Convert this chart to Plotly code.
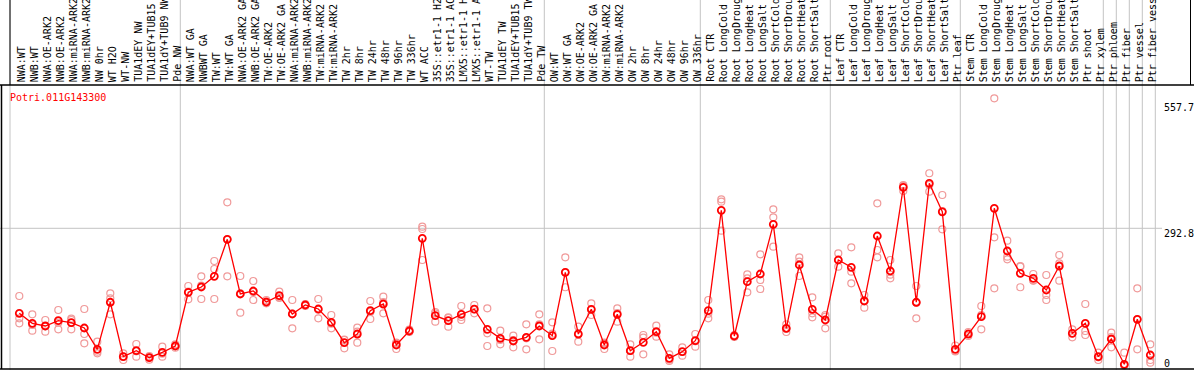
import plotly.graph_objects as go

gene = "Potri.011G143300"

samples = [
    "NWA:WT", "NWB:WT", "NWA:OE-ARK2", "NWB:OE-ARK2", "NWA:miRNA-ARK2", "NWB:miRNA-ARK2",
    "NW 0hr", "WT H2O", "WT-NW", "TUA1dEY NW", "TUA1dEY+TUB15 NW", "TUA1dY+TUB9 NW", "Pde NW",
    "NWA:WT GA", "NWBWT GA", "TW:WT", "TW:WT GA", "NWA:OE-ARK2 GA", "NWB:OE-ARK2 GA",
    "TW:OE-ARK2", "TW:OE-ARK2 GA", "NWA:miRNA-ARK2", "NWB:miRNA-ARK2", "TW:miRNA-ARK2",
    "TW:miRNA-ARK2", "TW 2hr", "TW 8hr", "TW 24hr", "TW 48hr", "TW 96hr", "TW 336hr", "WT ACC",
    "35S::etr1-1 H2O", "35S::etr1-1 ACC", "LMX5::etr1-1 H2O", "LMX5::etr1-1 ACC", "WT-TW",
    "TUA1dEY TW", "TUA1dEY+TUB15 TW", "TUA1dY+TUB9 TW", "Pde TW",
    "OW:WT", "OW:WT GA", "OW:OE-ARK2", "OW:OE-ARK2 GA", "OW:miRNA-ARK2", "OW:miRNA-ARK2",
    "OW 2hr", "OW 8hr", "OW 24hr", "OW 48hr", "OW 96hr", "OW 336hr",
    "Root CTR", "Root LongCold", "Root LongDrought", "Root LongHeat", "Root LongSalt",
    "Root ShortCold", "Root ShortDrought", "Root ShortHeat", "Root ShortSalt", "Ptr root",
    "Leaf CTR", "Leaf LongCold", "Leaf LongDrought", "Leaf LongHeat", "Leaf LongSalt",
    "Leaf ShortCold", "Leaf ShortDrought", "Leaf ShortHeat", "Leaf ShortSalt", "Ptr leaf",
    "Stem CTR", "Stem LongCold", "Stem LongDrought", "Stem LongHeat", "Stem LongSalt",
    "Stem ShortCold", "Stem ShortDrought", "Stem ShortHeat", "Stem ShortSalt", "Ptr shoot",
    "Ptr xylem", "Ptr phloem", "Ptr fiber", "Ptr vessel", "Ptr fiber vessel",
]

means = [
    112.1, 90.8, 85.1, 96.3, 92.1, 80.8, 35.5, 135.5, 19.8, 32.5, 17.6, 29.1, 42.5,
    156.7, 168.0, 190.7, 269.4, 153.1, 159.5, 136.1, 149.5, 110.6, 129.7, 121.2, 92.9,
    49.5, 68.0, 117.6, 131.8, 44.7, 74.4, 271.5, 107.0, 96.3, 109.9, 120.8, 78.0,
    58.9, 53.2, 61.0, 85.1,
    64.4, 199.2, 68.0, 120.6, 44.7, 109.9, 32.5, 50.4, 72.9, 16.4, 30.4, 53.8,
    117.6, 331.1, 63.8, 179.3, 195.6, 301.3, 80.2, 214.8, 120.6, 97.8,
    225.4, 209.9, 138.2, 276.4, 202.0, 380.0, 135.5, 388.5, 327.9, 35.5,
    68.0, 104.8, 335.3, 244.5, 197.1, 186.5, 161.6, 212.6, 69.5, 90.8,
    19.8, 57.4, 3.6, 99.3, 23.4,
]

rep1 = [
    148.8, 109.9, 97.8, 119.1, 97.8, 121.2, 51.7, 154.6, 27.0, 46.8, 21.3, 41.0, 46.1,
    170.1, 190.7, 223.3, 348.1, 191.4, 180.7, 140.3, 158.0, 140.3, 131.8, 142.5, 108.4,
    55.3, 81.4, 138.2, 147.4, 49.5, 77.2, 296.2, 112.1, 103.6, 127.6, 129.7, 122.7,
    75.1, 64.4, 88.7, 109.9,
    92.9, 231.1, 83.6, 133.3, 49.5, 122.7, 46.1, 65.9, 85.7, 24.9, 39.8, 68.0,
    140.3, 354.5, 65.9, 195.0, 237.5, 333.2, 88.7, 231.1, 146.1, 108.4,
    239.6, 252.4, 151.0, 346.0, 225.4, 384.9, 170.1, 409.8, 363.6, 43.6,
    72.3, 127.6, 569.2, 266.4, 212.6, 195.6, 193.5, 236.0, 78.0, 131.8,
    28.3, 70.8, 28.3, 165.2, 46.1,
]

rep2 = [
    101.4, 75.1, 72.9, 78.0, 78.0, 68.0, 30.4, 144.0, 12.8, 19.8, 13.4, 19.8, 38.9,
    141.8, 142.5, 206.3, 190.7, 113.3, 140.3, 133.3, 144.6, 80.2, 127.6, 101.4, 80.2,
    37.6, 49.5, 99.9, 112.1, 36.1, 72.3, 291.3, 94.2, 83.6, 97.8, 112.1, 42.5,
    46.1, 39.8, 35.5, 56.8,
    31.9, 167.4, 51.7, 108.4, 36.1, 94.2, 19.8, 24.9, 62.3, 10.6, 21.9, 41.0,
    101.4, 349.4, 61.7, 156.7, 182.9, 316.2, 72.3, 191.4, 103.6, 80.2,
    211.2, 200.5, 124.0, 246.7, 186.5, 372.1, 101.4, 370.6, 290.7, 31.9,
    63.8, 78.0, 273.7, 232.4, 167.4, 181.4, 140.3, 218.4, 61.0, 65.9,
    12.8, 39.8, 2.0, 35.5, 12.8,
]

rep3 = [
    90.8, 87.2, 84.4, 92.1, 100.6, 48.3, 27.0, 109.9, 19.8, 31.3, 18.5, 26.2, 42.5,
    158.0, 170.8, 142.5, 269.4, 154.6, 157.4, 134.6, 146.1, 111.2, 129.7, 119.7, 89.9,
    55.9, 72.9, 114.8, 136.1, 48.3, 73.8, 225.4, 114.8, 102.1, 104.2, 120.6, 69.5,
    55.3, 55.3, 58.9, 88.7,
    68.7, 199.2, 68.7, 119.7, 48.3, 112.7, 31.9, 60.2, 70.8, 13.4, 29.8, 52.5,
    111.2, 287.7, 63.8, 186.5, 163.7, 253.7, 79.3, 221.8, 112.1, 104.8,
    225.4, 175.9, 139.7, 231.1, 194.1, 382.8, 134.6, 384.9, 329.6, 30.8,
    68.0, 108.4, 165.2, 226.9, 211.2, 182.2, 151.0, 181.4, 69.5, 74.4,
    18.5, 61.7, 1.0, 99.3, 7.0,
]

group_ends = [13, 41, 53, 63, 73, 84, 85, 86, 87, 88]
axis_labels = [557.7, 292.8, 0]

# ---------------- layout constants ----------------
W, H = 1194, 370
PLOT_TOP, PLOT_BOT = 85, 369
PH = PLOT_BOT - PLOT_TOP
STEP = 13.0
X0PX = 6.3  # pixel of index 0
XR = [-X0PX / STEP, (W - X0PX) / STEP]
YR = [-6.38, 597.5]


def py(pix):
    return (PLOT_BOT - pix) / PH


xs = list(range(1, len(samples) + 1))
RED = "#ff0000"
PINK = "#f09a9a"
GREY = "#c4c4c4"
FONT = "DejaVu Sans Mono"

fig = go.Figure()
for r in (rep1, rep2, rep3):
    fig.add_trace(go.Scatter(
        x=xs, y=r, mode="markers", cliponaxis=False,
        marker=dict(symbol="circle-open", size=7, color=PINK, line=dict(width=1.2, color=PINK)),
        hoverinfo="skip", showlegend=False))
fig.add_trace(go.Scatter(
    x=xs, y=means, mode="lines+markers", cliponaxis=False,
    line=dict(color=RED, width=1.3),
    marker=dict(symbol="circle-open", size=7, color=RED, line=dict(width=1.8, color=RED)),
    text=samples, showlegend=False))

shapes = []
sep_x = [0.285] + [e + 0.385 for e in group_ends]
for sx in sep_x:
    shapes.append(dict(type="line", xref="x", yref="paper", x0=sx, x1=sx,
                       y0=py(H), y1=py(0), line=dict(color=GREY, width=1), layer="below"))
# header black segments
shapes.append(dict(type="line", xref="x", yref="paper", x0=0.285, x1=0.285,
                   y0=py(PLOT_TOP), y1=py(0), line=dict(color="black", width=1)))
shapes.append(dict(type="line", xref="paper", yref="paper", x0=1190.5 / W, x1=1190.5 / W,
                   y0=py(PLOT_TOP), y1=py(0), line=dict(color="black", width=1)))
# frame
shapes.append(dict(type="line", xref="paper", yref="paper", x0=0, x1=1, y0=1, y1=1,
                   line=dict(color="black", width=1.5)))
shapes.append(dict(type="line", xref="paper", yref="paper", x0=0, x1=1, y0=0, y1=0,
                   line=dict(color="black", width=1.5)))
shapes.append(dict(type="line", xref="paper", yref="paper", x0=1.5 / W, x1=1.5 / W, y0=0, y1=1,
                   line=dict(color="black", width=1.5)))
# grid line at mid value
shapes.append(dict(type="line", xref="paper", yref="y", x0=0, x1=1162 / W,
                   y0=axis_labels[1], y1=axis_labels[1], line=dict(color=GREY, width=1),
                   layer="below"))

annotations = []
for x, s in zip(xs, samples):
    annotations.append(dict(x=x, y=py(83), xref="x", yref="paper", text=s, textangle=-90,
                            xanchor="center", yanchor="bottom", xshift=2,
                            showarrow=False, borderpad=0,
                            font=dict(family=FONT, size=10, color="black")))
annotations.append(dict(x=9 / W, y=py(97.3), xref="paper", yref="paper", text=gene,
                        xanchor="left", yanchor="middle", showarrow=False, borderpad=0,
                        font=dict(family=FONT, size=10, color=RED)))
label_shift = {557.7: 3, 292.8: 1, 0: -4}
for v in axis_labels:
    annotations.append(dict(x=1163 / W, y=v, xref="paper", yref="y", text=f"{v:g}",
                            xanchor="left", yanchor="bottom" if v == 0 else "top",
                            yshift=label_shift[v],
                            showarrow=False, borderpad=0,
                            font=dict(family=FONT, size=10, color="black")))

fig.update_layout(
    width=W, height=H,
    margin=dict(l=0, r=0, t=PLOT_TOP, b=H - PLOT_BOT),
    paper_bgcolor="white", plot_bgcolor="white",
    xaxis=dict(range=XR, visible=False, fixedrange=True),
    yaxis=dict(range=YR, visible=False, fixedrange=True),
    shapes=shapes, annotations=annotations, showlegend=False,
)

fig.write_html(
    "out.html",
    config={"displayModeBar": False},
    post_script="document.body.style.margin='0px';document.body.style.overflow='hidden';",
)
